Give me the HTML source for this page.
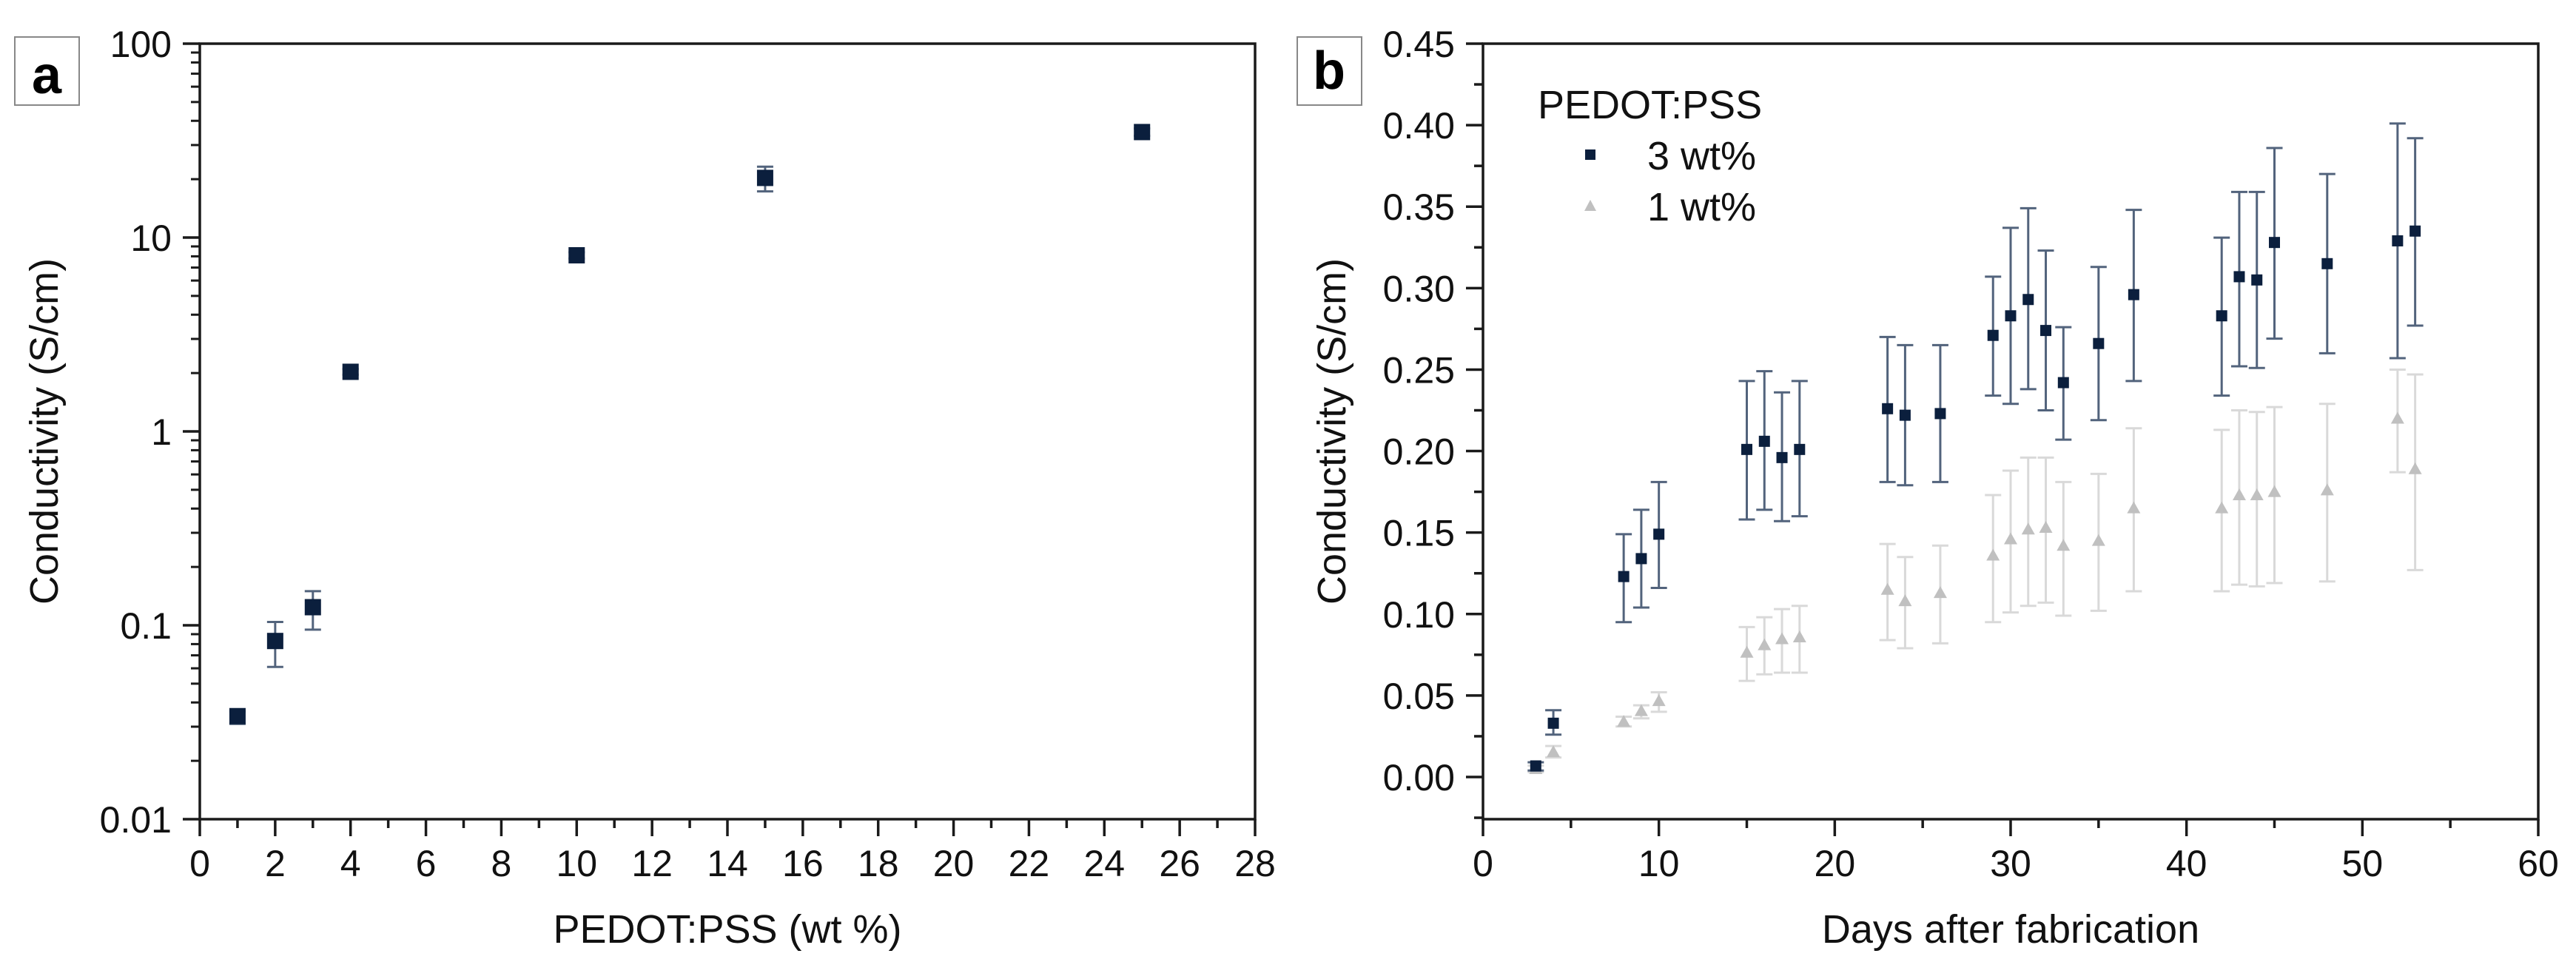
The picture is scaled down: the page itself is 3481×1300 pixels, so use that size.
<!DOCTYPE html>
<html><head><meta charset="utf-8"><style>
html,body{margin:0;padding:0;background:#fff;}
svg{display:block;font-family:"Liberation Sans",Arial,sans-serif;}
</style></head><body>
<svg id="fig" width="3481" height="1300" viewBox="0 0 3481 1300" xmlns="http://www.w3.org/2000/svg">
<g id="pa"></g>
<g id="pb"></g>
</svg>
<script>
// Panel a data
const aX = [1, 2, 3, 4, 10, 15, 25];
const aY = [0.034, 0.083, 0.124, 2.03, 8.1, 20.3, 35];
const aHi = [0.036, 0.104, 0.150, 2.1, 8.4, 23.2, 36.5];
const aLo = [0.031, 0.061, 0.095, 1.96, 7.8, 17.3, 33.5];
const aXTicks = [0, 2, 4, 6, 8, 10, 12, 14, 16, 18, 20, 22, 24, 26, 28];
const aYTicks = [0.01, 0.1, 1, 10, 100];
const aYTickLabels = ["0.01", "0.1", "1", "10", "100"];
// Panel b data
const bDays = [3, 4, 8, 9, 10, 15, 16, 17, 18, 23, 24, 26, 29, 30, 31, 32, 33, 35, 37, 42, 43, 44, 45, 48, 52, 53];
const b3 = [0.0068, 0.033, 0.123, 0.134, 0.149, 0.201, 0.206, 0.196, 0.201, 0.226, 0.222, 0.223, 0.271, 0.283, 0.293, 0.274, 0.242, 0.266, 0.296, 0.283, 0.307, 0.305, 0.328, 0.315, 0.329, 0.335];
const b3Hi = [0.009, 0.041, 0.149, 0.164, 0.181, 0.243, 0.249, 0.236, 0.243, 0.270, 0.265, 0.265, 0.307, 0.337, 0.349, 0.323, 0.276, 0.313, 0.348, 0.331, 0.359, 0.359, 0.386, 0.370, 0.401, 0.392];
const b3Lo = [0.004, 0.026, 0.095, 0.104, 0.116, 0.158, 0.164, 0.157, 0.160, 0.181, 0.179, 0.181, 0.234, 0.229, 0.238, 0.225, 0.207, 0.219, 0.243, 0.234, 0.252, 0.251, 0.269, 0.260, 0.257, 0.277];
const b1 = [0.005, 0.0154, 0.034, 0.0406, 0.0467, 0.0764, 0.081, 0.0847, 0.0858, 0.115, 0.108, 0.113, 0.136, 0.146, 0.152, 0.153, 0.142, 0.145, 0.165, 0.165, 0.173, 0.173, 0.175, 0.176, 0.220, 0.189];
const b1Hi = [0.007, 0.019, 0.037, 0.044, 0.052, 0.092, 0.098, 0.103, 0.105, 0.143, 0.135, 0.142, 0.173, 0.188, 0.196, 0.196, 0.181, 0.186, 0.214, 0.213, 0.225, 0.224, 0.227, 0.229, 0.250, 0.247];
const b1Lo = [0.003, 0.012, 0.031, 0.036, 0.040, 0.059, 0.063, 0.064, 0.064, 0.084, 0.079, 0.082, 0.095, 0.101, 0.105, 0.107, 0.099, 0.102, 0.114, 0.114, 0.118, 0.117, 0.119, 0.120, 0.187, 0.127];
const bXTicks = [0, 10, 20, 30, 40, 50, 60];
const bYTicks = [0, 0.05, 0.10, 0.15, 0.20, 0.25, 0.30, 0.35, 0.40, 0.45];

const NS = "http://www.w3.org/2000/svg";
function mk(parent, tag, attrs, text) {
  const e = document.createElementNS(NS, tag);
  for (const k in attrs) e.setAttribute(k, attrs[k]);
  if (text !== undefined) e.textContent = text;
  parent.appendChild(e);
  return e;
}
const AXC = "#1a1a1a";
const TF = 50, TT = 54;

// ---------- Panel a ----------
const pa = document.getElementById('pa');
const aL = 270, aR = 1696, aT = 59, aB = 1107;
const ax = v => aL + (v - 0) / 28 * (aR - aL);
const ay = v => aT + (2 - Math.log10(v)) / 4 * (aB - aT);

let e;
e = mk(pa, 'rect', {x: 20, y: 50, width: 87, height: 92, fill: '#fff', stroke: '#888', 'stroke-width': 2});


e = mk(pa, 'text', {x: 63, y: 126, 'font-size': 72, 'font-weight': 'bold', 'text-anchor': 'middle', fill: '#000'}, 'a');



e = mk(pa, 'rect', {x: aL, y: aT, width: aR - aL, height: aB - aT, fill: 'none', stroke: AXC, 'stroke-width': 3.5});



aXTicks.forEach((t, i) => {
  e = mk(pa, 'line', {x1: ax(t), x2: ax(t), y1: aB, y2: aB + 23, stroke: AXC, 'stroke-width': 3.5});
  
  
  if (i < aXTicks.length - 1) {
    e = mk(pa, 'line', {x1: ax(t + 1), x2: ax(t + 1), y1: aB, y2: aB + 12, stroke: AXC, 'stroke-width': 3.5});
    
    
  }
  e = mk(pa, 'text', {x: ax(t), y: 1184, 'font-size': TF, 'text-anchor': 'middle', fill: '#111'}, String(t));
  
  
});
aYTicks.forEach((t, i) => {
  e = mk(pa, 'line', {x1: aL - 23, x2: aL, y1: ay(t), y2: ay(t), stroke: AXC, 'stroke-width': 3.5});
  
  
  e = mk(pa, 'text', {x: 232, y: ay(t) + 18, 'font-size': TF, 'text-anchor': 'end', fill: '#111'}, aYTickLabels[i]);
  
  
  if (t < 100) {
    for (let m = 2; m <= 9; m++) {
      e = mk(pa, 'line', {x1: aL - 12, x2: aL, y1: ay(t * m), y2: ay(t * m), stroke: AXC, 'stroke-width': 3});
      
      
    }
  }
});
e = mk(pa, 'text', {x: (aL + aR) / 2, y: 1274, 'font-size': TT, 'text-anchor': 'middle', fill: '#111'}, 'PEDOT:PSS (wt %)');


e = mk(pa, 'text', {x: 0, y: 0, 'font-size': TT, 'text-anchor': 'middle', fill: '#111', transform: 'translate(78,' + ((aT + aB) / 2) + ') rotate(-90)'}, 'Conductivity (S/cm)');



aX.forEach((x, i) => {
  const cx = ax(x);
  e = mk(pa, 'path', {d: `M${cx},${ay(aHi[i])}V${ay(aLo[i])}M${cx-11},${ay(aHi[i])}h22M${cx-11},${ay(aLo[i])}h22`, stroke: '#52637c', 'stroke-width': 3, fill: 'none'});
  
  
  e = mk(pa, 'rect', {x: cx - 11, y: ay(aY[i]) - 11, width: 22, height: 22, fill: '#0b1f3d'});
  
  
});

// ---------- Panel b ----------
const pb = document.getElementById('pb');
const bL = 2004, bR = 3430, bT = 59, bB = 1107;
const bx = v => bL + v / 60 * (bR - bL);
const by = v => 1050 - v / 0.45 * (1050 - bT);

e = mk(pb, 'rect', {x: 1753, y: 50, width: 87, height: 92, fill: '#fff', stroke: '#888', 'stroke-width': 2});


e = mk(pb, 'text', {x: 1796, y: 120, 'font-size': 72, 'font-weight': 'bold', 'text-anchor': 'middle', fill: '#000'}, 'b');



e = mk(pb, 'rect', {x: bL, y: bT, width: bR - bL, height: bB - bT, fill: 'none', stroke: AXC, 'stroke-width': 3.5});



bXTicks.forEach((t, i) => {
  e = mk(pb, 'line', {x1: bx(t), x2: bx(t), y1: bB, y2: bB + 23, stroke: AXC, 'stroke-width': 3.5});
  
  
  if (i < bXTicks.length - 1) {
    e = mk(pb, 'line', {x1: bx(t + 5), x2: bx(t + 5), y1: bB, y2: bB + 12, stroke: AXC, 'stroke-width': 3.5});
    
    
  }
  e = mk(pb, 'text', {x: bx(t), y: 1184, 'font-size': TF, 'text-anchor': 'middle', fill: '#111'}, String(t));
  
  
});
bYTicks.forEach((t, i) => {
  e = mk(pb, 'line', {x1: bL - 23, x2: bL, y1: by(t), y2: by(t), stroke: AXC, 'stroke-width': 3.5});
  
  
  e = mk(pb, 'line', {x1: bL - 12, x2: bL, y1: by(t - 0.025), y2: by(t - 0.025), stroke: AXC, 'stroke-width': 3.5});
  
  
  e = mk(pb, 'text', {x: 1966, y: by(t) + 18, 'font-size': TF, 'text-anchor': 'end', fill: '#111'}, t.toFixed(2));
  
  
});
e = mk(pb, 'text', {x: (bL + bR) / 2, y: 1274, 'font-size': TT, 'text-anchor': 'middle', fill: '#111'}, 'Days after fabrication');


e = mk(pb, 'text', {x: 0, y: 0, 'font-size': TT, 'text-anchor': 'middle', fill: '#111', transform: 'translate(1818,' + ((bT + bB) / 2) + ') rotate(-90)'}, 'Conductivity (S/cm)');



// 1 wt% series (behind)
bDays.forEach((d, i) => {
  const cx = bx(d);
  e = mk(pb, 'path', {d: `M${cx},${by(b1Hi[i])}V${by(b1Lo[i])}M${cx-11},${by(b1Hi[i])}h22M${cx-11},${by(b1Lo[i])}h22`, stroke: '#d9d9d9', 'stroke-width': 3, fill: 'none'});
  
  
  const cy = by(b1[i]);
  e = mk(pb, 'path', {d: `M${cx},${cy-9}L${cx+9},${cy+7}L${cx-9},${cy+7}Z`, fill: '#c0c0c0'});
  
  
});
// 3 wt% series
bDays.forEach((d, i) => {
  const cx = bx(d);
  e = mk(pb, 'path', {d: `M${cx},${by(b3Hi[i])}V${by(b3Lo[i])}M${cx-11},${by(b3Hi[i])}h22M${cx-11},${by(b3Lo[i])}h22`, stroke: '#52637c', 'stroke-width': 3, fill: 'none'});
  
  
  e = mk(pb, 'rect', {x: cx - 7.5, y: by(b3[i]) - 7.5, width: 15, height: 15, fill: '#0b1f3d'});
  
  
});

// legend
const lg = mk(pb, 'g', {});


e = mk(lg, 'text', {x: 2078, y: 160, 'font-size': TT, fill: '#111'}, 'PEDOT:PSS');


e = mk(lg, 'rect', {x: 2142, y: 202, width: 14, height: 14, fill: '#0b1f3d'});


e = mk(lg, 'text', {x: 2226, y: 229, 'font-size': TT, fill: '#111'}, '3 wt%');


e = mk(lg, 'path', {d: 'M2149,270L2157,285L2141,285Z', fill: '#c0c0c0'});


e = mk(lg, 'text', {x: 2226, y: 298, 'font-size': TT, fill: '#111'}, '1 wt%');


</script>
</body></html>
